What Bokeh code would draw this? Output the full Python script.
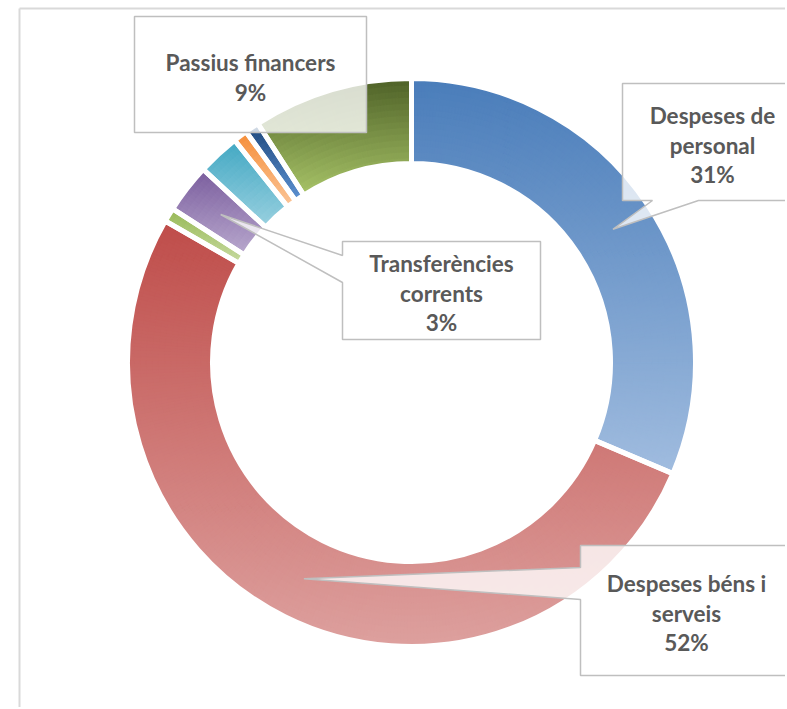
import numpy as np
from bokeh.plotting import figure
from bokeh.models import Range1d, ColumnDataSource
from bokeh.core.properties import value
from bokeh.embed import file_html
from bokeh.resources import INLINE

# ---------------- data ----------------
categories = ["Despeses de personal", "Despeses béns i serveis", "Despeses financeres",
              "Transferències corrents", "Inversions reals", "Transferències de capital",
              "Actius financers", "Passius financers"]
shares = [31.4, 51.9, 0.8, 2.8, 2.4, 0.8, 0.8, 9.1]
colors_dark = ["#4A7DBA", "#BF4D4A", "#98B957", "#7B5E9E", "#43A8C3", "#F58E3A", "#1F497D", "#4F6228"]
colors_light = ["#A0BCDF", "#DDA09E", "#C8DBA2", "#B9A9CE", "#9AD1E0", "#FBC699", "#5E93D3", "#A8C468"]
label_lines = {
    "Despeses de personal": ["Despeses de", "personal"],
    "Despeses béns i serveis": ["Despeses béns i", "serveis"],
    "Transferències corrents": ["Transferències", "corrents"],
    "Passius financers": ["Passius financers"],
}

# ---------------- layout (page pixel coordinates) ----------------
W, H = 785, 707
PAGE_H = 709
CX, CY = 411, 362
R_OUT, R_IN = 284, 199
GAP = 5
callouts = {
    "Despeses de personal": dict(box=(622, 83, 800, 200), side="bottom", base=(652, 698), tx=712, ty=115),
    "Despeses béns i serveis": dict(box=(580, 545, 800, 675), side="left", base=(567, 599), tx=686, ty=583),
    "Transferències corrents": dict(box=(342, 241, 540, 339), side="left", base=(255, 282), tx=441, ty=263),
    "Passius financers": dict(box=(134, 16, 366, 132), side=None, base=None, tx=250, ty=62),
}
LINE_STEP = 29.5


def dy(y):
    return PAGE_H - y


def hex2rgb(h):
    h = h.lstrip("#")
    return np.array([int(h[i:i + 2], 16) for i in (0, 2, 4)], dtype=float)


def rgb2hex(c):
    c = np.clip(np.round(c), 0, 255).astype(int)
    return "#%02x%02x%02x" % tuple(c)


p = figure(width=W, height=H, output_backend="svg", toolbar_location=None,
           x_range=Range1d(0, W), y_range=Range1d(PAGE_H - H, PAGE_H),
           x_axis_type=None, y_axis_type=None, min_border=0,
           outline_line_color=None, background_fill_color="white")
p.grid.visible = False

# chart-area frame (left and top edges visible)
p.segment(x0=[19, 19], y0=[dy(8), dy(8)], x1=[19, W], y1=[dy(H + 5), dy(8)],
          line_color="#D9D9D9", line_width=2)

total = float(sum(shares))
fracs = np.array(shares) / total
ends = np.cumsum(fracs)
starts = ends - fracs


def ang(f):
    return np.pi / 2 - 2 * np.pi * f


cx, cy = CX, dy(CY)

# gradient cells (vertical linear gradient per segment)
cell_x, cell_y, cell_ri, cell_ro, cell_sa, cell_ea, cell_c = [], [], [], [], [], [], []
NB = 14
radii = np.linspace(R_IN, R_OUT, NB + 1)
for i, cat in enumerate(categories):
    s, e = starts[i], ends[i]
    ts = np.linspace(ang(s), ang(e), 200)
    ys = np.concatenate([CY - R_OUT * np.sin(ts), CY - R_IN * np.sin(ts)])
    ymin, ymax = ys.min(), ys.max()
    na = max(2, int(np.ceil((e - s) * 360 / 0.7)))
    edges = np.linspace(s, e, na + 1)
    c0, c1 = hex2rgb(colors_dark[i]), hex2rgb(colors_light[i])
    for k in range(na):
        a0, a1 = ang(edges[k]), ang(edges[k + 1])
        am = 0.5 * (a0 + a1)
        a1x = a1 - (0.004 if k < na - 1 else 0)
        for b in range(NB):
            rm = 0.5 * (radii[b] + radii[b + 1])
            ypg = CY - rm * np.sin(am)
            t = (ypg - ymin) / (ymax - ymin) if ymax > ymin else 0.5
            cell_x.append(cx)
            cell_y.append(cy)
            cell_ri.append(radii[b] - (0.6 if b > 0 else 0))
            cell_ro.append(radii[b + 1])
            cell_sa.append(a0)
            cell_ea.append(a1x)
            cell_c.append(rgb2hex(c0 + (c1 - c0) * t))

cells = ColumnDataSource(dict(x=cell_x, y=cell_y, ri=cell_ri, ro=cell_ro,
                              sa=cell_sa, ea=cell_ea, c=cell_c))
p.annular_wedge(x="x", y="y", inner_radius="ri", outer_radius="ro",
                start_angle="sa", end_angle="ea", direction="clock",
                fill_color="c", line_color="c", line_width=0.8, source=cells)

# white separators between slices
seg = ColumnDataSource(dict(x=[cx] * len(categories), y=[cy] * len(categories),
                            sa=[ang(v) for v in starts], ea=[ang(v) for v in ends],
                            cat=categories))
p.annular_wedge(x="x", y="y", inner_radius=R_IN, outer_radius=R_OUT,
                start_angle="sa", end_angle="ea", direction="clock",
                fill_alpha=0, line_color="white", line_width=GAP, source=seg)

# callouts
pxs, pys = [], []
tx, ty, tt = [], [], []
RM = 0.5 * (R_IN + R_OUT)
for cat, spec in callouts.items():
    i = categories.index(cat)
    am = ang(0.5 * (starts[i] + ends[i]))
    tipx, tipy = CX + RM * np.cos(am), CY - RM * np.sin(am)
    L, T, R, B = spec["box"]
    if spec["side"] == "bottom":
        b1, b2 = spec["base"]
        poly = [(L, T), (R, T), (R, B), (b2, B), (tipx, tipy), (b1, B), (L, B)]
    elif spec["side"] == "left":
        b1, b2 = spec["base"]
        poly = [(L, T), (R, T), (R, B), (L, B), (L, b2), (tipx, tipy), (L, b1)]
    else:
        poly = [(L, T), (R, T), (R, B), (L, B)]
    pxs.append([q[0] for q in poly])
    pys.append([dy(q[1]) for q in poly])
    lines = label_lines[cat] + ["%d%%" % round(shares[i] / total * 100)]
    for j, ln in enumerate(lines):
        tx.append(spec["tx"])
        ty.append(dy(spec["ty"] + j * LINE_STEP))
        tt.append(ln)

p.patches(xs=pxs, ys=pys, fill_color="white", fill_alpha=0.78,
          line_color="#BFBFBF", line_width=1.5)

p.text(x=tx, y=ty, text=tt, text_font=value("Lato"), text_font_style="bold",
       text_font_size="22.5px", text_color="#595959",
       text_align="center", text_baseline="middle")

open("out.html", "w").write(file_html(p, INLINE))
